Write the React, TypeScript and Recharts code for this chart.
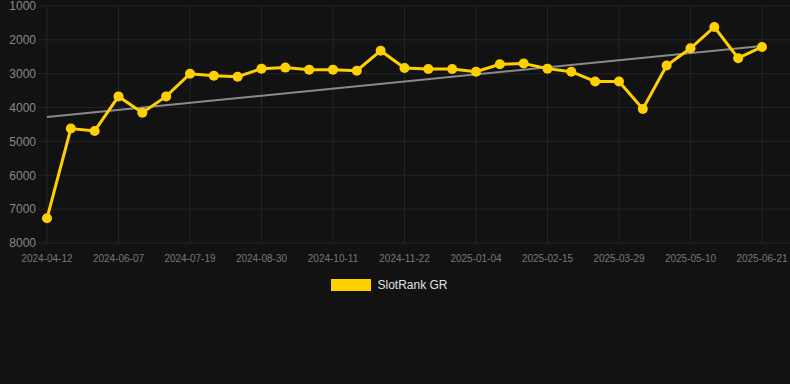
import {
  LineChart,
  Line,
  XAxis,
  YAxis,
  CartesianGrid,
  Legend,
} from 'recharts';

// dates of each rank sample
const dates = [
  '2024-04-12', '2024-04-26', '2024-05-17', '2024-06-07', '2024-06-21',
  '2024-07-05', '2024-07-19', '2024-08-02', '2024-08-16', '2024-08-30',
  '2024-09-13', '2024-09-27', '2024-10-11', '2024-10-25', '2024-11-08',
  '2024-11-22', '2024-12-06', '2024-12-20', '2025-01-04', '2025-01-18',
  '2025-02-01', '2025-02-15', '2025-03-01', '2025-03-15', '2025-03-29',
  '2025-04-12', '2025-04-26', '2025-05-10', '2025-05-24', '2025-06-07',
  '2025-06-21',
];

// SlotRank GR (lower = better, axis is reversed)
const ranks = [
  7270, 4620, 4690, 3670, 4150, 3670, 3000, 3060, 3090, 2850,
  2820, 2880, 2880, 2910, 2320, 2830, 2860, 2860, 2940, 2720,
  2700, 2850, 2940, 3230, 3230, 4040, 2760, 2250, 1620, 2540,
  2210,
];

// trend line end points
const trendStart = 4280;
const trendEnd = 2180;

const yTicks = [1000, 2000, 3000, 4000, 5000, 6000, 7000, 8000];

const data = dates.map((d, i) => ({
  date: d,
  rank: ranks[i],
  trend: i === 0 ? trendStart : i === dates.length - 1 ? trendEnd : null,
}));

const YELLOW = '#FFD000';

function LegendBox() {
  return (
    <div
      style={{
        height: 24,
        display: 'flex',
        alignItems: 'center',
        justifyContent: 'center',
        gap: 6,
        paddingRight: 11,
        fontFamily: '"Liberation Sans", Arial, sans-serif',
        fontSize: 12,
        color: '#e0e0e0',
      }}
    >
      <span style={{ width: 40, height: 12, background: YELLOW, display: 'inline-block' }} />
      <span>SlotRank GR</span>
    </div>
  );
}

export default function App() {
  return (
    <div
      style={{
        position: 'absolute',
        left: 0,
        top: 0,
        width: 790,
        height: 384,
        background: '#121212',
        fontFamily: '"Liberation Sans", Arial, sans-serif',
      }}
    >
      <LineChart
        width={790}
        height={300}
        data={data}
        margin={{ top: 6, right: 0, left: 0, bottom: 3 }}
        style={{ overflow: 'visible' }}
      >
        <CartesianGrid stroke="#242424" strokeWidth={1} syncWithTicks />
        <XAxis
          dataKey="date"
          interval={2}
          padding={{ left: 9, right: 28 }}
          axisLine={false}
          tickLine={false}
          tickSize={0}
          tickMargin={12}
          height={30}
          tick={{ fill: '#777', fontSize: 10 }}
        />
        <YAxis
          reversed
          domain={[1000, 8000]}
          ticks={yTicks}
          interval={0}
          width={38}
          axisLine={false}
          tickLine={false}
          tickSize={0}
          tickMargin={2}
          tick={{ fill: '#888', fontSize: 12 }}
        />
        <Line
          dataKey="trend"
          stroke="#8a8a8a"
          strokeWidth={2}
          dot={false}
          connectNulls
          isAnimationActive={false}
          legendType="none"
        />
        <Line
          dataKey="rank"
          name="SlotRank GR"
          stroke={YELLOW}
          strokeWidth={3}
          dot={{ r: 5, fill: YELLOW, stroke: YELLOW, strokeWidth: 0 }}
          isAnimationActive={false}
        />
        <Legend verticalAlign="bottom" content={() => <LegendBox />} />
      </LineChart>
    </div>
  );
}
